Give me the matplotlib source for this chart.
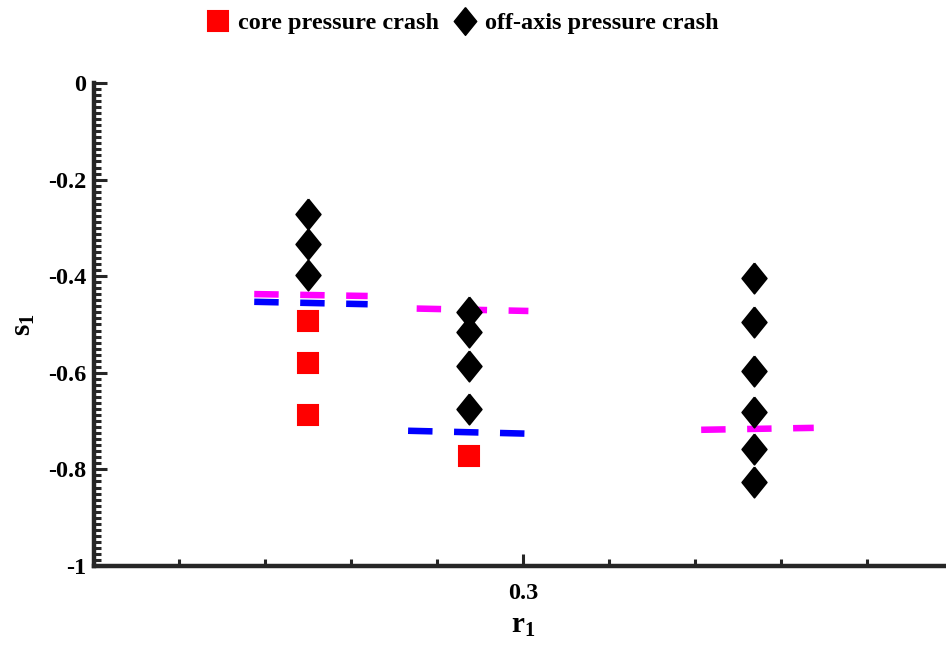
import matplotlib
matplotlib.use("Agg")
import matplotlib.pyplot as plt
from matplotlib.lines import Line2D
from matplotlib.ticker import FixedLocator, MultipleLocator

plt.rcParams['font.family'] = ['Liberation Serif', 'DejaVu Serif']
plt.rcParams['font.weight'] = 'bold'
plt.rcParams['mathtext.fontset'] = 'custom'
plt.rcParams['mathtext.rm'] = 'Liberation Serif:bold'
plt.rcParams['mathtext.it'] = 'Liberation Serif:bold'
plt.rcParams['mathtext.bf'] = 'Liberation Serif:bold'
plt.rcParams['lines.scale_dashes'] = False

# r1 position of each scan
r_pos = [0.2749, 0.2937, 0.3269]

# s1 of the crashes at each position
core_s = [[-0.492, -0.580, -0.688], [-0.772], []]
off_s = [[-0.271, -0.333, -0.398],
         [-0.474, -0.515, -0.586, -0.675],
         [-0.403, -0.495, -0.596, -0.681, -0.758, -0.827]]

# dashed threshold segments (x ends, s1 ends)
mag_x = [[0.2687, 0.2819], [0.2876, 0.3006], [0.3207, 0.3338]]
mag_s = [[-0.437, -0.441], [-0.467, -0.472], [-0.718, -0.714]]
blue_x = [[0.2687, 0.2819], [0.2866, 0.3005]]
blue_s = [[-0.453, -0.458], [-0.720, -0.726]]

legend_labels = ["core pressure crash", "off-axis pressure crash"]

red = '#ff0000'
axcol = '#262626'
diamond = [(0, 1), (0.81, 0), (0, -1), (-0.81, 0), (0, 1)]

fig = plt.figure(figsize=(9.46, 6.47), dpi=100)
ax = fig.add_axes([93.5 / 946, 81 / 647, (953 - 93.5) / 946, 483 / 647])

for xs, ys in zip(mag_x, mag_s):
    ax.plot(xs, ys, color='#ff00ff', lw=4.7, dashes=(17.6, 15.5),
            solid_capstyle='butt', dash_capstyle='butt', zorder=2)
for xs, ys in zip(blue_x, blue_s):
    ax.plot(xs, ys, color='#0000ff', lw=4.7, dashes=(17.6, 15.5),
            solid_capstyle='butt', dash_capstyle='butt', zorder=2)

for r, vals in zip(r_pos, core_s):
    if vals:
        ax.plot([r] * len(vals), vals, ls='none', marker='s', ms=14.5,
                mfc=red, mec=red, mew=1.5, zorder=3)
for r, vals in zip(r_pos, off_s):
    ax.plot([r] * len(vals), vals, ls='none', marker=diamond, ms=22,
            mfc='black', mec='black', mew=1.2, zorder=3)

ax.set_xlim(0.25, 0.35)
ax.set_ylim(-1, 0)
ax.xaxis.set_major_locator(FixedLocator([0.3]))
ax.xaxis.set_minor_locator(MultipleLocator(0.01))
ax.yaxis.set_major_locator(MultipleLocator(0.2))
ax.yaxis.set_minor_locator(MultipleLocator(0.0125))
ax.set_xticklabels(['0.3'])
ax.set_yticks([0, -0.2, -0.4, -0.6, -0.8, -1])
ax.set_yticklabels(['0', '-0.2', '-0.4', '-0.6', '-0.8', '-1'])

for side in ['top', 'right']:
    ax.spines[side].set_visible(False)
for side in ['left', 'bottom']:
    ax.spines[side].set_linewidth(3.2)
    ax.spines[side].set_color(axcol)

ax.tick_params(which='both', direction='in', color=axcol, width=2.2,
               labelsize=17.5, labelcolor='black')
ax.tick_params(which='major', length=9)
ax.tick_params(which='minor', length=4.7)
ax.tick_params(axis='y', pad=5)
ax.tick_params(axis='x', pad=12.5)

ax.set_xlabel(r'$\mathrm{r}_1$', fontsize=21, labelpad=6)
ax.set_ylabel(r'$\mathrm{s}_1$', fontsize=21, labelpad=8)

handles = [
    Line2D([], [], ls='none', marker='s', ms=14.5, mfc=red, mec=red, mew=1.5),
    Line2D([], [], ls='none', marker=diamond, ms=20, mfc='black', mec='black'),
]
fig.legend(handles, legend_labels, loc='center', ncol=2, frameon=False,
           bbox_to_anchor=(462 / 946, 1 - 23 / 647), fontsize=17.5,
           handlelength=1.0, handletextpad=0.32, columnspacing=0.57,
           borderaxespad=0, borderpad=0)

fig.savefig('out.png', dpi=100)
